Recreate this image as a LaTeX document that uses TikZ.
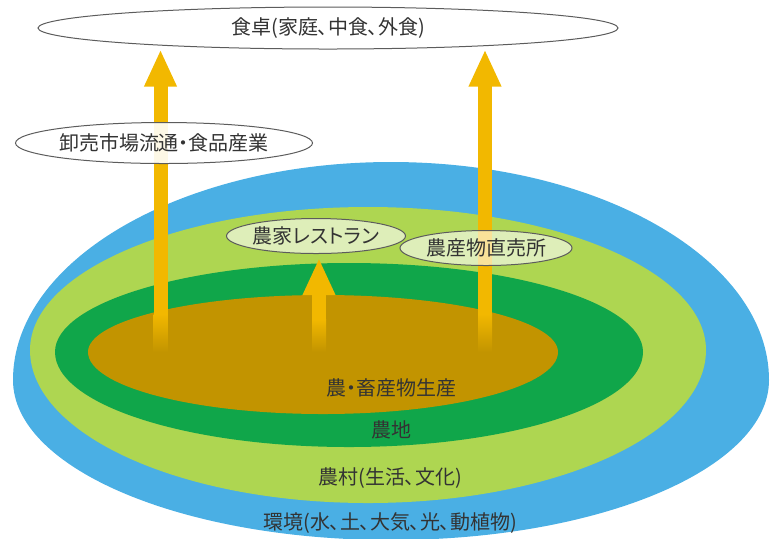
\documentclass[tikz,border=0pt]{standalone}
\usepackage{fontspec}
\setmainfont{Noto Sans CJK JP}[RawFeature=+palt]
\usetikzlibrary{shapes.geometric,arrows.meta}
\definecolor{sky}{HTML}{4AAFE4}
\definecolor{grass}{HTML}{AED651}
\definecolor{field}{HTML}{10A64A}
\definecolor{soil}{HTML}{C29400}
\definecolor{flow}{HTML}{F2B800}
\definecolor{ink}{HTML}{333333}
\newcommand{\egg}[6]{\fill[#1] ({#2+#4},#3)
  arc[start angle=0,end angle=180,x radius=#4,y radius=#6]
  arc[start angle=180,end angle=360,x radius=#4,y radius=#5] -- cycle;}
\begin{document}
\begin{tikzpicture}[x=0.5pt,y=-0.5pt,
    font=\fontsize{10pt}{12pt}\selectfont,text=ink,
    bubble/.style={ellipse,draw=ink!80,line width=0.5pt,inner sep=0pt,text opacity=1},
    supply/.style={draw=flow,line width=7pt,-{Triangle[width=15pt,length=18.5pt]}},
    tail/.style={top color=flow,bottom color=soil}]
  \useasboundingbox (0,0) rectangle (771,538);
  \clip (0,0) rectangle (771,538);
  \egg{sky}{391}{380}{378}{218}{160}
  \egg{grass}{368}{350}{338}{143}{153}
  \egg{field}{349}{352}{294}{89}{95}
  \egg{soil}{323}{352}{235}{57}{62}
  \node (prod) at (391,388) {農・畜産物生産};
  \node (land) at (391,430) {農地};
  \node (village) at (390,478) {農村(生活、文化)};
  \node (env) at (390,523) {環境(水、土、大気、光、動植物)};
  \node[bubble,fill=white,minimum width=290pt,minimum height=21pt] (table) at (328,28) {食卓(家庭、中食、外食)};
  \node[bubble,fill=white,fill opacity=0.6,minimum width=89.5pt,minimum height=17.5pt] (farmrest) at (316,236) {農家レストラン};
  \coordinate (lsrc) at (160.5,315);
  \coordinate (msrc) at (319,320);
  \coordinate (rsrc) at (485,315);
  \shade[tail] (153.5,314) rectangle (167.5,352);
  \shade[tail] (312,319) rectangle (326,352);
  \shade[tail] (478,314) rectangle (492,352);
  \draw[supply] (lsrc) -- (lsrc |- table.south);
  \draw[supply] (msrc) -- ([yshift=-2pt]msrc |- farmrest.south);
  \draw[supply] (rsrc) -- (rsrc |- table.south);
  \node[bubble,fill=white,fill opacity=0.9,minimum width=145.5pt,minimum height=20.5pt] (market) at (164,143) {卸売市場流通・食品産業};
  \node[bubble,fill=white,fill opacity=0.6,minimum width=86pt,minimum height=17.5pt] (stand) at (486,248) {農産物直売所};
\end{tikzpicture}
\end{document}
